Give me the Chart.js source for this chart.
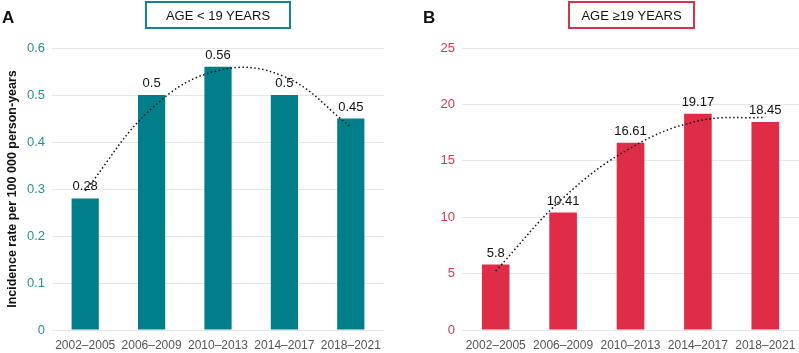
<!DOCTYPE html>
<html>
<head>
<meta charset="utf-8">
<script src="https://cdn.jsdelivr.net/npm/chart.js@4/dist/chart.umd.min.js"></script>
<style>
  body { margin: 0; background: #fff; font-family: "Liberation Sans", Arial, sans-serif; }
  #wrap { position: relative; width: 799px; height: 353px; overflow: hidden; }
  .panel { position: absolute; top: 0; height: 353px; }
  .letter { position: absolute; top: 8px; font-weight: bold; font-size: 17px; color: #111; }
  .tbox { position: absolute; top: 1px; height: 24px; line-height: 25px; font-size: 13px; color: #111; text-align: center; background: #fff; }
</style>
</head>
<body>
<div id="wrap">
  <div class="panel" style="left:0;width:400px"><canvas id="chartA"></canvas></div>
  <div class="panel" style="left:400px;width:399px"><canvas id="chartB"></canvas></div>
  <div class="letter" style="left:2px">A</div>
  <div class="letter" style="left:423px">B</div>
  <div class="tbox" style="left:145px;width:142px;border:2px solid #12868f">AGE &lt; 19 YEARS</div>
  <div class="tbox" style="left:568px;width:123px;border:2px solid #d8334b">AGE ≥19 YEARS</div>
</div>
<script>
var periods = ['2002–2005', '2006–2009', '2010–2013', '2014–2017', '2018–2021'];
var youngRates = [0.28, 0.5, 0.56, 0.5, 0.45];
var youngTrend = [0.296, 0.471, 0.552, 0.539, 0.432];
var adultRates = [5.8, 10.41, 16.61, 19.17, 18.45];
var adultTrend = [5.23, 11.7, 16.13, 18.52, 18.86];

var barLabels = {
  id: 'barLabels',
  afterDatasetsDraw: function (chart) {
    var ctx = chart.ctx;
    chart.data.datasets.forEach(function (ds, i) {
      if (ds.type !== 'bar') return;
      chart.getDatasetMeta(i).data.forEach(function (bar, j) {
        ctx.save();
        ctx.font = '13px "Liberation Sans", Arial, sans-serif';
        ctx.fillStyle = '#111';
        ctx.textAlign = 'center';
        ctx.textBaseline = 'bottom';
        ctx.fillText(String(ds.data[j]), bar.x, bar.y - 5);
        ctx.restore();
      });
    });
  }
};

function makeChart(id, values, trend, color, tickColor, max, step, yTitle, yWidth) {
  var ctx = document.getElementById(id).getContext('2d');
  return new Chart(ctx, {
    type: 'bar',
    data: {
      labels: periods,
      datasets: [{
        type: 'line',
        data: trend,
        borderColor: '#111',
        borderWidth: 1.5,
        borderDash: [1.5, 2.5],
        pointRadius: 0,
        tension: 0.4,
        fill: false,
        order: 0
      }, {
        type: 'bar',
        data: values,
        backgroundColor: color,
        barPercentage: 0.41,
        categoryPercentage: 1,
        order: 1
      }]
    },
    plugins: [barLabels],
    options: {
      responsive: true,
      maintainAspectRatio: false,
      animation: false,
      layout: { padding: { top: 48, right: id === 'chartA' ? 16 : 0, bottom: 0, left: 0 } },
      plugins: { legend: { display: false }, tooltip: { enabled: false } },
      scales: {
        x: {
          grid: { display: false, drawTicks: false, tickLength: 0 },
          border: { display: false },
          ticks: {
            color: '#555', padding: 8, maxRotation: 0, minRotation: 0, autoSkip: false,
            font: { size: 12, family: '"Liberation Sans", Arial' }
          },
          afterFit: function (scale) {
            scale.height = 23;
            scale.paddingLeft = 0;
            scale.paddingRight = 0;
          }
        },
        y: {
          min: 0,
          max: max,
          grid: { color: '#e6e6e6', drawTicks: false },
          border: { display: false },
          ticks: { stepSize: step, color: tickColor, padding: 7, font: { size: 13, family: '"Liberation Sans", Arial' } },
          title: {
            display: !!yTitle,
            text: yTitle,
            color: '#111',
            padding: { top: 5, bottom: 0 },
            font: { size: 12.5, weight: 'bold', family: '"Liberation Sans", Arial' }
          },
          afterFit: function (scale) { scale.width = yWidth; }
        }
      }
    }
  });
}

makeChart('chartA', youngRates, youngTrend, '#007f8b', '#25909a', 0.6, 0.1, 'Incidence rate per 100 000 person-years', 52);
makeChart('chartB', adultRates, adultTrend, '#df2d47', '#cf3a50', 25, 5, '', 62);
</script>
</body>
</html>
